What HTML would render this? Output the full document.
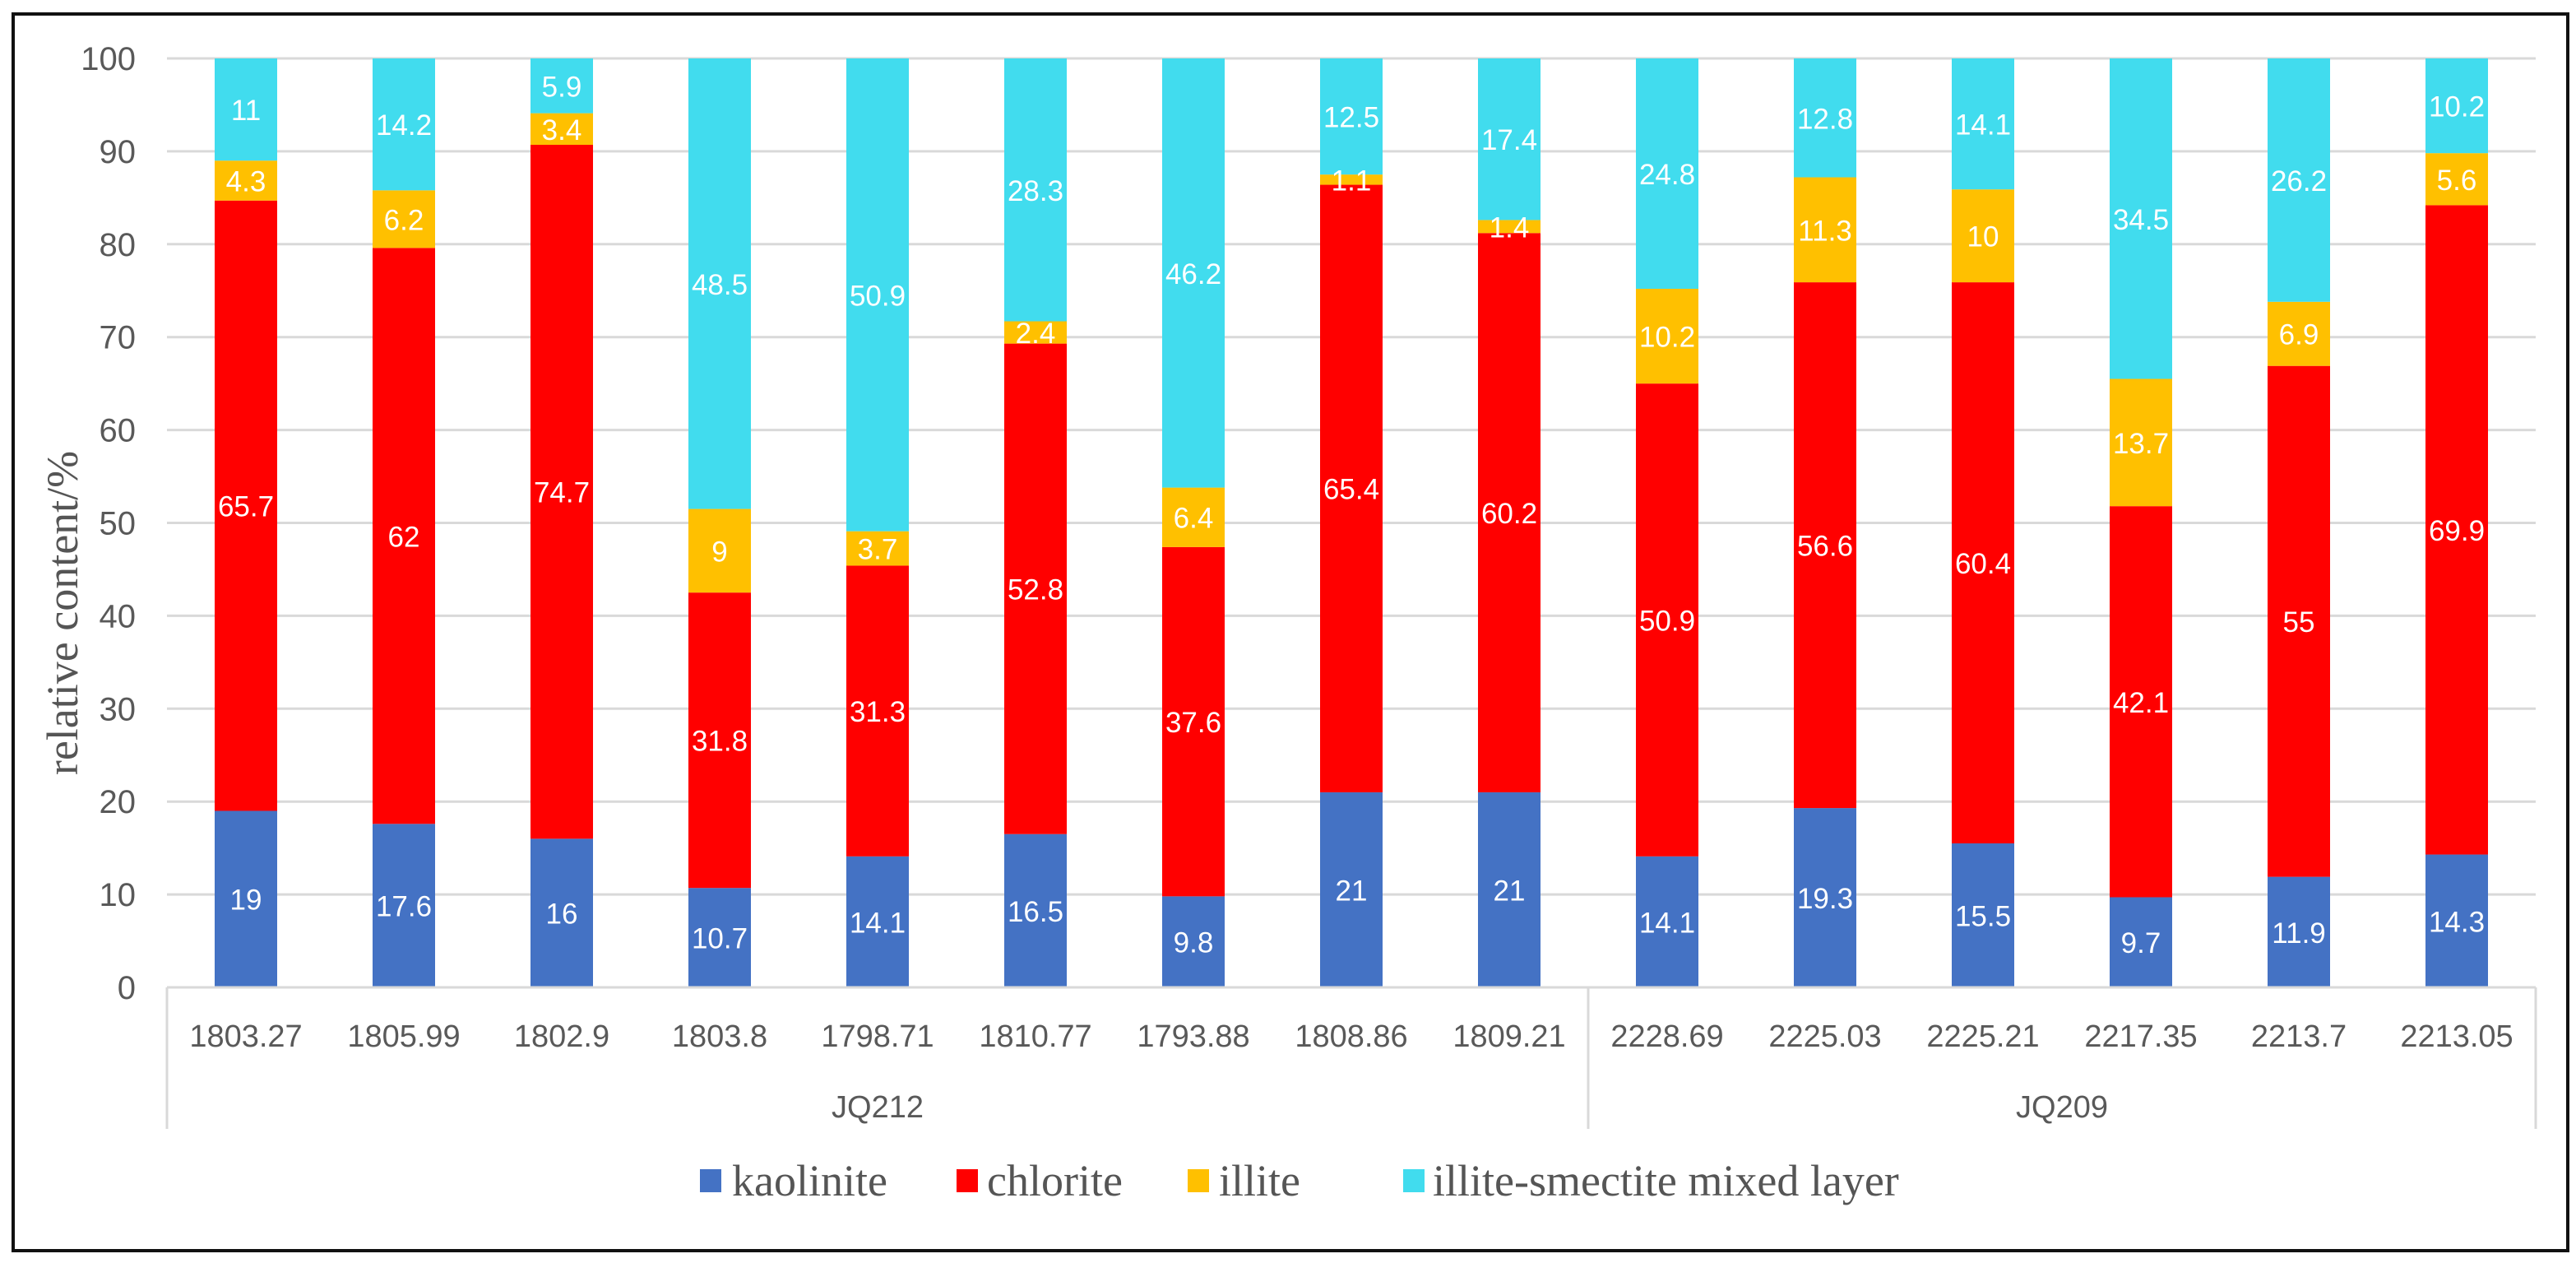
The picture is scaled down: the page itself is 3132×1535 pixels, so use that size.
<!DOCTYPE html>
<html><head><meta charset="utf-8"><style>
html,body{margin:0;padding:0;background:#fff;}
svg{display:block;}
</style></head><body>
<svg id="chart" width="3132" height="1535" viewBox="0 0 3132 1535" xmlns="http://www.w3.org/2000/svg">
<rect x="16" y="17" width="3106" height="1503" fill="#fff" stroke="#111" stroke-width="4"/>
<g id="grid"></g><g id="bars"></g><g id="labels"></g><g id="axis"></g>
<text transform="translate(94,745) rotate(-90)" text-anchor="middle" font-family="Liberation Serif, serif" font-size="54" fill="#555">relative content/%</text>
<g font-family="Liberation Serif, serif" font-size="54" fill="#555">
<rect x="851" y="1421" width="26" height="28" fill="#4472C4"/>
<text x="890" y="1453">kaolinite</text>
<rect x="1163" y="1421" width="26" height="28" fill="#FF0000"/>
<text x="1200" y="1453">chlorite</text>
<rect x="1444" y="1421" width="26" height="28" fill="#FFC000"/>
<text x="1482" y="1453">illite</text>
<rect x="1706" y="1421" width="26" height="28" fill="#41DCEE"/>
<text x="1742" y="1453">illite-smectite mixed layer</text>
</g>
</svg>
<script>
const categories = ["1803.27","1805.99","1802.9","1803.8","1798.71","1810.77","1793.88","1808.86","1809.21","2228.69","2225.03","2225.21","2217.35","2213.7","2213.05"];
const groups = ["JQ212","JQ209"];
const groupSizes = [9,6];
const kaolinite = [19,17.6,16,10.7,14.1,16.5,9.8,21,21,14.1,19.3,15.5,9.7,11.9,14.3];
const chlorite = [65.7,62,74.7,31.8,31.3,52.8,37.6,65.4,60.2,50.9,56.6,60.4,42.1,55,69.9];
const illite = [4.3,6.2,3.4,9,3.7,2.4,6.4,1.1,1.4,10.2,11.3,10,13.7,6.9,5.6];
const mixedLayer = [11,14.2,5.9,48.5,50.9,28.3,46.2,12.5,17.4,24.8,12.8,14.1,34.5,26.2,10.2];
const yTicks = [0,10,20,30,40,50,60,70,80,90,100];

const NS="http://www.w3.org/2000/svg";
const L=203,R=3083,T=71,B=1200;
const bw=(R-L)/categories.length, barW=76;
function y(v){return B-(v/100)*(B-T);}
function xc(i){return L+bw*(i+0.5);}
function mk(tag,attrs,parent){const e=document.createElementNS(NS,tag);for(const k in attrs)e.setAttribute(k,attrs[k]);parent.appendChild(e);return e;}
const grid=document.getElementById('grid'),bars=document.getElementById('bars'),labels=document.getElementById('labels'),axis=document.getElementById('axis');
yTicks.forEach(t=>{
  const l=mk('line',{x1:L,x2:R,y1:y(t),y2:y(t),stroke:'#d9d9d9','stroke-width':3},grid);
  
  
  const tx=mk('text',{x:165,y:y(t)+14,'text-anchor':'end','font-family':'Liberation Sans, sans-serif','font-size':40,fill:'#595959'},axis);
  tx.textContent=t;
  
  
});
const series=[["kaolinite",kaolinite,"#4472C4"],["chlorite",chlorite,"#FF0000"],["illite",illite,"#FFC000"],["mixed-layer",mixedLayer,"#41DCEE"]];
categories.forEach((c,i)=>{
  let base=0;
  series.forEach(([name,arr,col])=>{
    const v=arr[i];const top=Math.min(100,base+v);
    const r=mk('rect',{x:xc(i)-barW/2,y:y(top),width:barW,height:y(base)-y(top),fill:col},bars);
    
    
    const t=mk('text',{x:xc(i),y:(y(base)+y(top))/2+13,'text-anchor':'middle','font-family':'Liberation Sans, sans-serif','font-size':35,fill:'#fff'},labels);
    t.textContent=v;
    
    
    base=top;
  });
  const ct=mk('text',{x:xc(i),y:1272,'text-anchor':'middle','font-family':'Liberation Sans, sans-serif','font-size':38,fill:'#595959'},axis);
  ct.textContent=c;
  
  
});
const ax=mk('line',{x1:L,x2:R,y1:B,y2:B,stroke:'#d9d9d9','stroke-width':3},axis);


let start=0;
const seps=[0];
groups.forEach((g,gi)=>{
  const end=start+groupSizes[gi];
  seps.push(end);
  const gt=mk('text',{x:(L+bw*start+L+bw*end)/2,y:1358,'text-anchor':'middle','font-family':'Liberation Sans, sans-serif','font-size':38,fill:'#595959'},axis);
  gt.textContent=g;
  
  
  start=end;
});
seps.forEach(s=>{
  const l=mk('line',{x1:L+bw*s,x2:L+bw*s,y1:B,y2:1372,stroke:'#d9d9d9','stroke-width':3},axis);
  
  
});
</script>
</body></html>
